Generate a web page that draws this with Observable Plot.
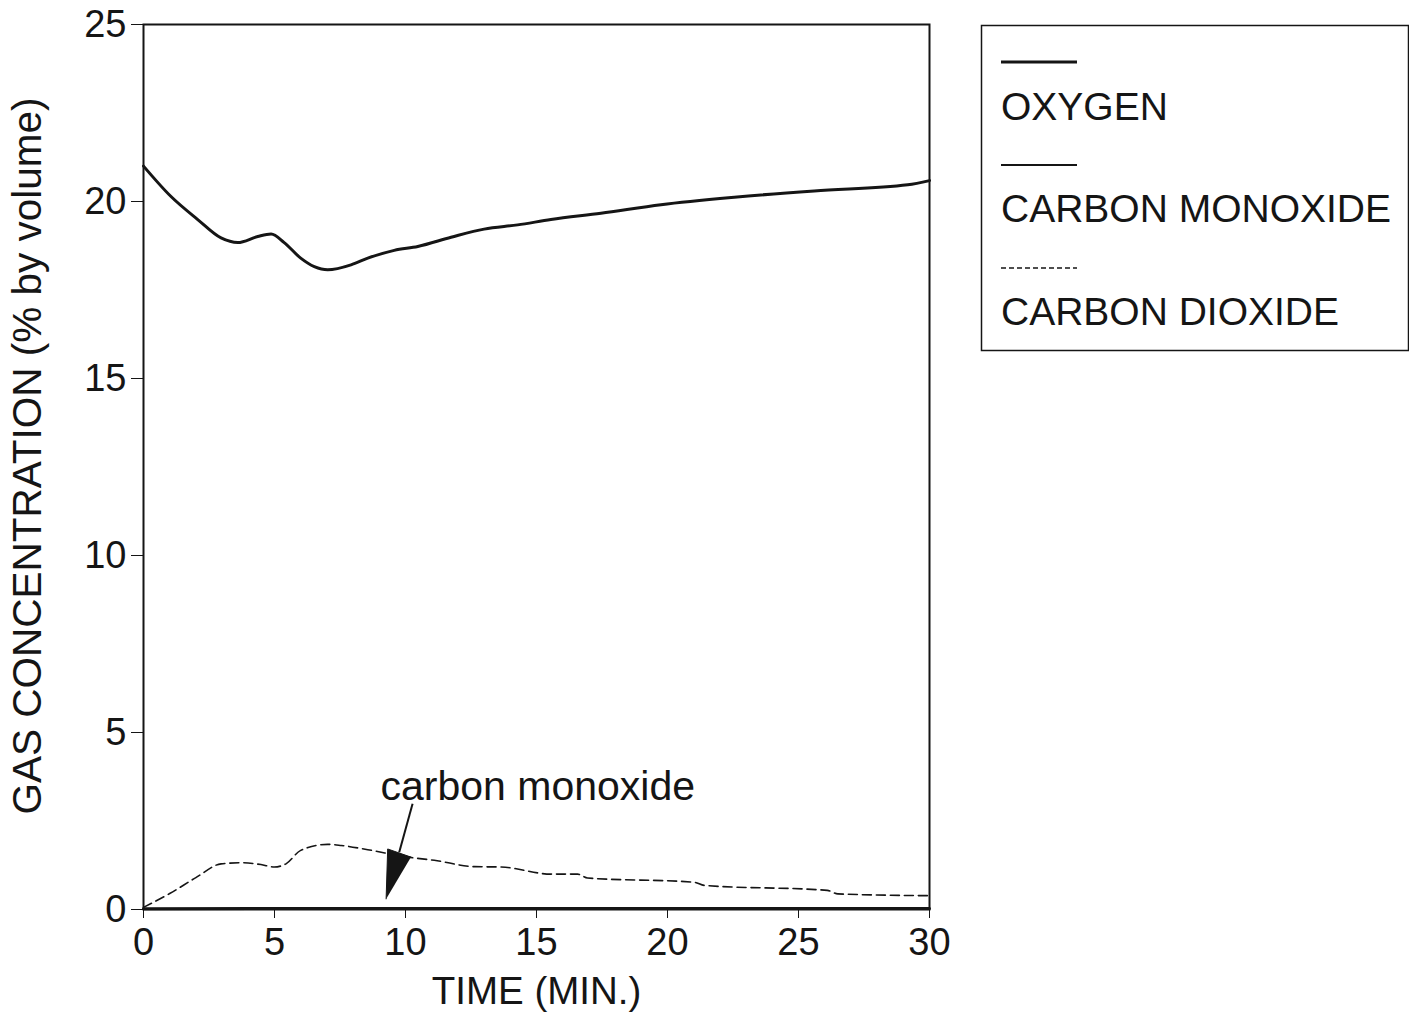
<!DOCTYPE html>
<html><head><meta charset="utf-8">
<script src="https://cdn.jsdelivr.net/npm/d3@7"></script>
<script src="https://cdn.jsdelivr.net/npm/@observablehq/plot@0.6"></script>
<style>
body{margin:0;background:#fff;}
#wrap{position:relative;width:1409px;height:1014px;overflow:hidden;font-family:"Liberation Sans",Arial,Helvetica,sans-serif;}
#wrap svg{position:absolute;left:0;top:0;}
</style></head><body><div id="wrap"></div>
<script>
// ---- data ----
const timeTicks = [0, 5, 10, 15, 20, 25, 30];
const concTicks = [0, 5, 10, 15, 20, 25];
const xLabel = "TIME (MIN.)";
const yLabel = "GAS CONCENTRATION (% by volume)";
const seriesNames = ["OXYGEN", "CARBON MONOXIDE", "CARBON DIOXIDE"];

const oxygenTime  = [0, 1.05, 2.07, 2.96, 3.6, 4.36, 4.87, 5.37, 6.0, 6.52, 7.03, 7.92, 8.56, 9.57, 10.47, 11.74, 13.0, 14.28, 15.55, 17.46, 19.75, 22.55, 25.6, 29.17, 30];
const oxygenValue = [21.0, 20.14, 19.49, 18.97, 18.84, 19.01, 19.08, 18.84, 18.4, 18.16, 18.07, 18.21, 18.4, 18.62, 18.73, 18.99, 19.22, 19.34, 19.49, 19.67, 19.91, 20.12, 20.3, 20.47, 20.59];

const coTime  = [0, 5, 10, 15, 20, 25, 30];
const coValue = [0.02, 0.03, 0.03, 0.03, 0.03, 0.03, 0.03];

const co2Time  = [0, 1.0, 2.0, 2.96, 3.72, 4.48, 4.99, 5.44, 6.0, 7.03, 7.54, 8.56, 10.08, 11.1, 12.63, 13.65, 15.55, 16.57, 16.95, 21.02, 21.4, 26.1, 26.5, 30];
const co2Value = [0.06, 0.45, 0.9, 1.29, 1.32, 1.27, 1.2, 1.29, 1.67, 1.84, 1.81, 1.69, 1.48, 1.39, 1.21, 1.2, 1.0, 1.0, 0.89, 0.77, 0.68, 0.54, 0.44, 0.39];

const annotationText = "carbon monoxide";
const annotationPos = [{t: 15.05, v: 3.08}];
const arrowShaft = [{t1: 10.27, v1: 2.99, t2: 9.76, v2: 1.62}];
const arrowHead = [{t: 9.26, v: 0.3}, {t: 9.32, v: 1.71}, {t: 10.21, v: 1.48}];

// ---- build tables ----
const oxygen = oxygenTime.map((t, i) => ({t, v: oxygenValue[i]}));
const co = coTime.map((t, i) => ({t, v: coValue[i]}));
const co2 = co2Time.map((t, i) => ({t, v: co2Value[i]}));

const ink = "#151515";
const font = '"Liberation Sans", Arial, Helvetica, sans-serif';

const plot = Plot.plot({
  width: 1409, height: 1014,
  marginLeft: 143, marginRight: 480, marginTop: 24, marginBottom: 105,
  style: {fontFamily: font, fontSize: "38px", color: ink, background: "transparent", overflow: "visible"},
  x: {domain: [0, 30], label: null},
  y: {domain: [0, 25], label: null},
  marks: [
    Plot.axisX({ticks: timeTicks, tickSize: 9, tickPadding: 10, tickFormat: d => String(d), label: null, fontSize: 38}),
    Plot.axisY({ticks: concTicks, tickSize: 12, tickPadding: 5, tickFormat: d => String(d), label: null, fontSize: 38}),
    Plot.text([xLabel], {frameAnchor: "bottom", dy: 94, lineAnchor: "bottom", textAnchor: "middle", text: d => d, fontSize: 38.5, fill: ink}),
    Plot.text([yLabel], {frameAnchor: "left", dx: -131, dy: -11, rotate: -90, lineAnchor: "top", textAnchor: "middle", text: d => d, fontSize: 40.5, fill: ink}),
    Plot.frame({stroke: ink, strokeWidth: 2}),
    Plot.line(co, {x: "t", y: "v", stroke: ink, strokeWidth: 3}),
    Plot.line(oxygen, {x: "t", y: "v", stroke: ink, strokeWidth: 3, curve: "monotone-x"}),
    Plot.line(co2, {x: "t", y: "v", stroke: ink, strokeWidth: 1.6, strokeDasharray: "9,5", curve: "monotone-x"}),
    Plot.link(arrowShaft, {x1: "t1", y1: "v1", x2: "t2", y2: "v2", stroke: ink, strokeWidth: 2}),
    Plot.line(arrowHead, {x: "t", y: "v", fill: ink, stroke: ink, strokeWidth: 1}),
    Plot.text(annotationPos, {x: "t", y: "v", text: () => annotationText, fontSize: 41, lineAnchor: "bottom", fill: ink})
  ]
});
document.getElementById("wrap").appendChild(plot);

// ---- legend (right of plot) ----
const legendStyles = [
  {w: 3.2, dash: null},
  {w: 2, dash: null},
  {w: 1.4, dash: "5,3"}
];
const lg = d3.select("#wrap").append("svg")
  .attr("width", 1409).attr("height", 1014)
  .style("pointer-events", "none");
lg.append("rect").attr("x", 981.5).attr("y", 25.5).attr("width", 427).attr("height", 325)
  .attr("fill", "none").attr("stroke", ink).attr("stroke-width", 1.5);
seriesNames.forEach((name, i) => {
  const y0 = 62 + i * 103;
  const s = legendStyles[i];
  const ln = lg.append("line").attr("x1", 1001).attr("x2", 1077).attr("y1", y0).attr("y2", y0)
    .attr("stroke", ink).attr("stroke-width", s.w);
  if (s.dash) ln.attr("stroke-dasharray", s.dash);
  lg.append("text").attr("x", 1001).attr("y", y0 + 58 + (i === 0 ? 0 : -1))
    .attr("font-family", font).attr("font-size", 39).attr("fill", ink).text(name);
});
</script></body></html>
